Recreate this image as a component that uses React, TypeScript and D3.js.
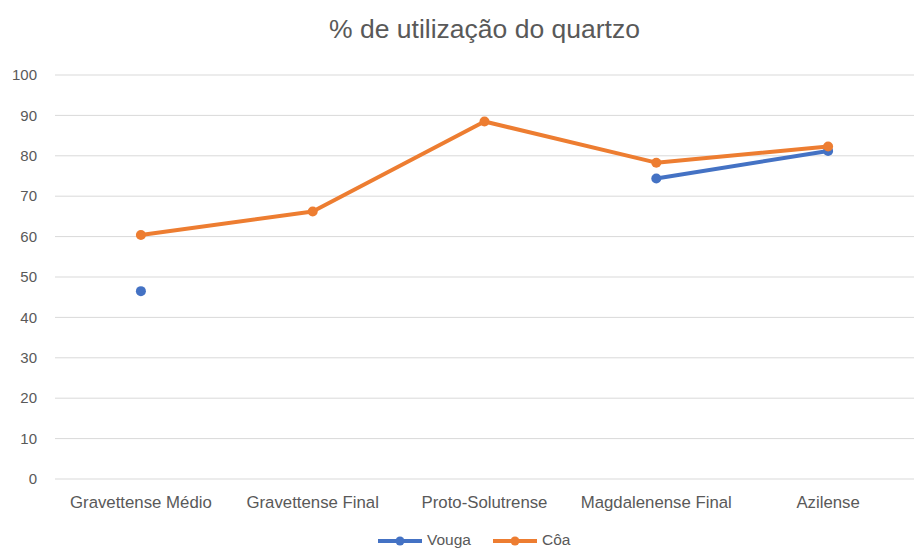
import React, { useRef, useEffect } from 'react';
import * as d3 from 'd3';

const categories = ['Gravettense Médio', 'Gravettense Final', 'Proto-Solutrense', 'Magdalenense Final', 'Azilense'];
const vouga: (number | null)[] = [46.5, null, null, 74.4, 81.2];
const coa: (number | null)[] = [60.4, 66.2, 88.5, 78.3, 82.3];
const yTicks = [0, 10, 20, 30, 40, 50, 60, 70, 80, 90, 100];

const series = [
    { name: 'Vouga', values: vouga, color: '#4472C4' },
    { name: 'Côa', values: coa, color: '#ED7D31' },
];

const App = () => {
    const ref = useRef<SVGSVGElement>(null);

    useEffect(() => {
        if (!ref.current) return;
        const svg = d3.select(ref.current);
        svg.selectAll('*').remove();

        const width = 914;
        const margin = { top: 75, right: 0, bottom: 70, left: 55 };
        const font = 'Liberation Sans, Arial, sans-serif';
        const textColor = '#595959';

        const x = d3.scaleBand().domain(categories).range([margin.left, width - margin.right]);
        const y = d3.scaleLinear().domain([0, 100]).range([479, margin.top]);

        svg.append('text')
            .attr('x', (margin.left + width) / 2)
            .attr('y', 38)
            .attr('text-anchor', 'middle')
            .attr('font-family', font)
            .attr('font-size', 26.5)
            .attr('fill', textColor)
            .text('% de utilização do quartzo');

        // grid
        svg.append('g').selectAll('line')
            .data(yTicks)
            .enter().append('line')
            .attr('x1', margin.left)
            .attr('x2', width - margin.right)
            .attr('y1', d => y(d))
            .attr('y2', d => y(d))
            .attr('stroke', '#d9d9d9')
            .attr('stroke-width', 1);

        svg.append('g').selectAll('text')
            .data(yTicks)
            .enter().append('text')
            .attr('x', 37)
            .attr('y', d => y(d))
            .attr('dy', '0.35em')
            .attr('text-anchor', 'end')
            .attr('font-family', font)
            .attr('font-size', 15)
            .attr('fill', textColor)
            .text(d => d);

        svg.append('g').selectAll('text')
            .data(categories)
            .enter().append('text')
            .attr('x', d => x(d)! + x.bandwidth() / 2)
            .attr('y', 508)
            .attr('text-anchor', 'middle')
            .attr('font-family', font)
            .attr('font-size', 16.8)
            .attr('fill', textColor)
            .text(d => d);

        const line = d3.line<number | null>()
            .defined(d => d !== null)
            .x((_, i) => x(categories[i])! + x.bandwidth() / 2)
            .y(d => y(d as number));

        series.forEach(s => {
            const g = svg.append('g');
            g.append('path')
                .attr('d', line(s.values))
                .attr('fill', 'none')
                .attr('stroke', s.color)
                .attr('stroke-width', 4)
                .attr('stroke-linecap', 'round')
                .attr('stroke-linejoin', 'round');
            g.selectAll('circle')
                .data(s.values.map((v, i) => ({ v, i })).filter(d => d.v !== null))
                .enter().append('circle')
                .attr('cx', d => x(categories[d.i])! + x.bandwidth() / 2)
                .attr('cy', d => y(d.v as number))
                .attr('r', 5)
                .attr('fill', s.color);
        });

        // legend
        const legendItems = [
            { ...series[0], x: 378, tx: 427 },
            { ...series[1], x: 493, tx: 542 },
        ];
        const lg = svg.append('g');
        legendItems.forEach(item => {
            lg.append('line')
                .attr('x1', item.x).attr('x2', item.x + 44)
                .attr('y1', 541).attr('y2', 541)
                .attr('stroke', item.color).attr('stroke-width', 4);
            lg.append('circle')
                .attr('cx', item.x + 22).attr('cy', 541).attr('r', 4.5)
                .attr('fill', item.color);
            lg.append('text')
                .attr('x', item.tx).attr('y', 545)
                .attr('font-family', font)
                .attr('font-size', 15.5)
                .attr('fill', textColor)
                .text(item.name);
        });
    }, []);

    return <svg ref={ref} width={914} height={549} style={{ position: 'absolute', left: 0, top: 0, background: '#fff' }} />;
};

export default App;
